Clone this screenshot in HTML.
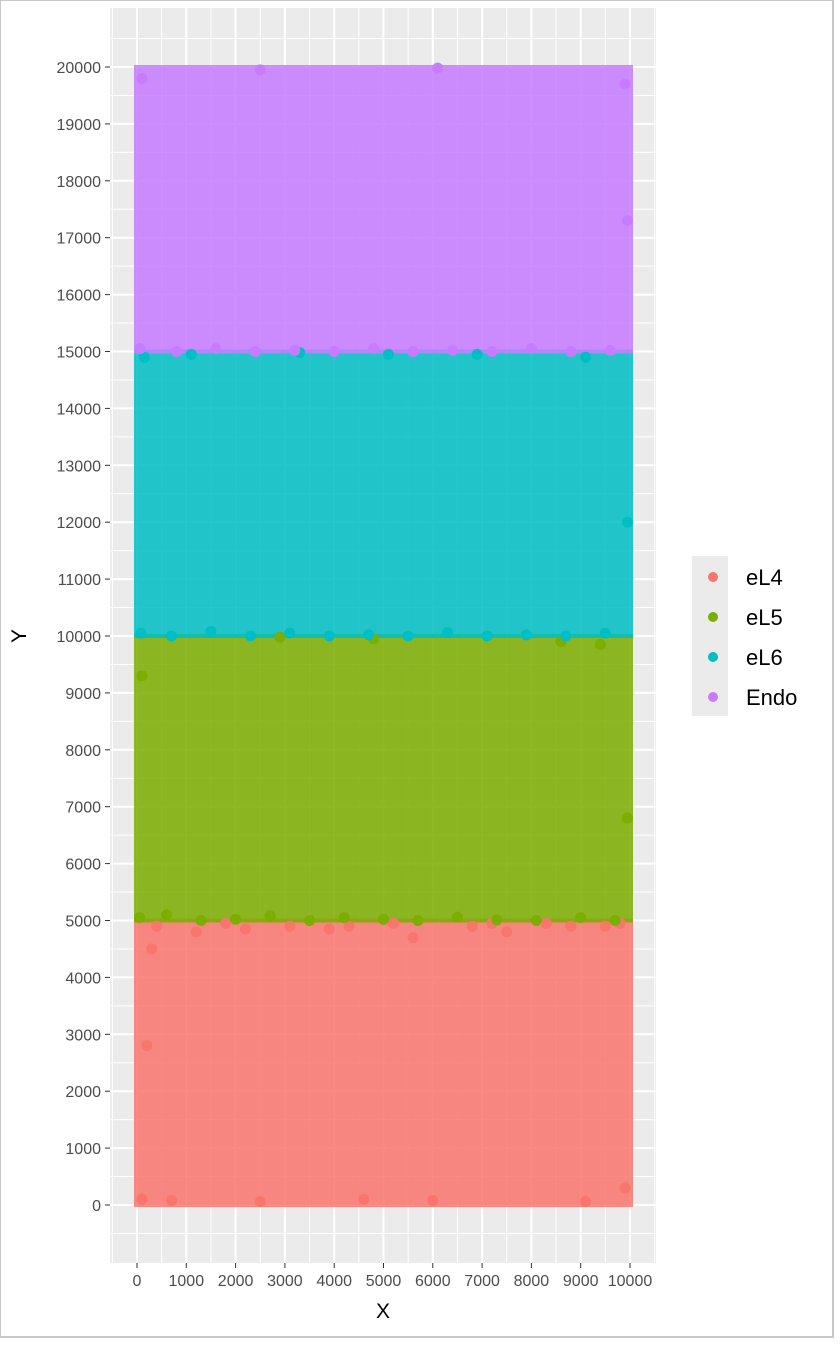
<!DOCTYPE html>
<html><head><meta charset="utf-8"><style>
body{margin:0;background:#fff;width:840px;height:1341px;overflow:hidden;font-family:"Liberation Sans",sans-serif}
</style></head><body>
<svg id="chart" width="840" height="1341" xmlns="http://www.w3.org/2000/svg">
<rect x="0" y="0" width="833" height="1337" fill="#fff" stroke="#c8c8c8" stroke-width="2"/>
<rect x="110" y="8" width="546" height="1255" fill="#ebebeb"/>
<g id="grid"></g>
<g id="bands"></g>
<g id="points"></g>
<g id="axes"></g>
<text x="383" y="1318" font-size="21" text-anchor="middle" fill="#000">X</text>
<text x="26" y="636" font-size="21" text-anchor="middle" fill="#000" transform="rotate(-90 26 636)">Y</text>
<g id="legend"></g>
</svg>
<script>
const categories=["eL4","eL5","eL6","Endo"];
const colors=["#F8766D","#7CAE00","#00BFC4","#C77CFF"];
const bandYMin=[0,5000,10000,15000];
const bandYMax=[5000,10000,15000,20000];
const xTicks=[0,1000,2000,3000,4000,5000,6000,7000,8000,9000,10000];
const yTicks=[0,1000,2000,3000,4000,5000,6000,7000,8000,9000,10000,11000,12000,13000,14000,15000,16000,17000,18000,19000,20000];
const ptX0=[100,400,700,1200,1800,2500,3100,3900,4600,5200,6000,6800,7500,8300,9100,9800,9900,200,5600,8800,300,2200,4300,7200,9500];
const ptY0=[100,4900,80,4800,4950,60,4900,4850,100,4950,80,4900,4800,4950,60,4950,300,2800,4700,4900,4500,4850,4900,4950,4900];
const ptX1=[50,600,1300,2000,2700,3500,4200,5000,5700,6500,7300,8100,9000,9700,9950,100,4800,8600,9400,2900];
const ptY1=[5050,5100,5000,5020,5080,5000,5050,5020,5000,5060,5010,5000,5050,5000,6800,9300,9950,9900,9850,9980];
const ptX2=[80,700,1500,2300,3100,3900,4700,5500,6300,7100,7900,8700,9500,9950,150,1100,5100,9100,3300,6900];
const ptY2=[10050,10000,10080,10000,10050,10000,10020,10000,10060,10000,10020,10000,10050,12000,14900,14950,14950,14900,14980,14950];
const ptX3=[60,800,1600,2400,3200,4000,4800,5600,6400,7200,8000,8800,9600,9950,100,9900,2500,6100];
const ptY3=[15050,15000,15050,15000,15020,15000,15050,15000,15020,15000,15050,15000,15020,17300,19800,19700,19950,19980];
const ptsX=[ptX0,ptX1,ptX2,ptX3], ptsY=[ptY0,ptY1,ptY2,ptY3];
const NS="http://www.w3.org/2000/svg";
const sx=v=>137+v*(630-137)/10000;
const sy=v=>1205-v*(1205-67)/20000;
function mk(tag,attrs,parent){const e=document.createElementNS(NS,tag);for(const k in attrs)e.setAttribute(k,attrs[k]);parent.appendChild(e);return e;}
const grid=document.getElementById('grid');
for(let i=0;i<xTicks.length;i++){
 const l=mk('line',{x1:sx(xTicks[i]),x2:sx(xTicks[i]),y1:8,y2:1263,stroke:'#fff','stroke-width':2},grid);
 
 
 if(i<xTicks.length-1){const m=mk('line',{x1:sx(xTicks[i]+500),x2:sx(xTicks[i]+500),y1:8,y2:1263,stroke:'#fff','stroke-width':1},grid);
 
 }
}
[sx(-500),sx(10500)].forEach(x=>{const m=mk('line',{x1:x,x2:x,y1:8,y2:1263,stroke:'#fff','stroke-width':1},grid);
 
 });
for(let i=0;i<yTicks.length;i++){
 const l=mk('line',{x1:110,x2:656,y1:sy(yTicks[i]),y2:sy(yTicks[i]),stroke:'#fff','stroke-width':2},grid);
 
 
 const m=mk('line',{x1:110,x2:656,y1:sy(yTicks[i]+500),y2:sy(yTicks[i]+500),stroke:'#fff','stroke-width':1},grid);
 
 
}
{const m=mk('line',{x1:110,x2:656,y1:sy(-500),y2:sy(-500),stroke:'#fff','stroke-width':1},grid);
 
 }
const bands=document.getElementById('bands');
for(let c=0;c<categories.length;c++){
 const y1=sy(bandYMax[c]),y2=sy(bandYMin[c]);
 const r=mk('rect',{x:sx(0)-3,y:y1-2,width:sx(10000)-sx(0)+6,height:y2-y1+4,fill:colors[c],'fill-opacity':0.86},bands);
 
 
}
const pts=document.getElementById('points');
for(let c=0;c<categories.length;c++){
 for(let i=0;i<ptsX[c].length;i++){
  const p=mk('circle',{cx:sx(ptsX[c][i]),cy:sy(ptsY[c][i]),r:5.5,fill:colors[c]},pts);
  
  
 }
}
const axes=document.getElementById('axes');
xTicks.forEach(v=>{
 const t=mk('line',{x1:sx(v),x2:sx(v),y1:1263,y2:1268,stroke:'#333','stroke-width':1},axes);
 
 
 const l=mk('text',{x:sx(v),y:1286,'font-size':16,'text-anchor':'middle',fill:'#4d4d4d'},axes);
 l.textContent=v;
 
 
});
yTicks.forEach(v=>{
 const t=mk('line',{x1:105,x2:110,y1:sy(v),y2:sy(v),stroke:'#333','stroke-width':1},axes);
 
 
 const l=mk('text',{x:101,y:sy(v)+6,'font-size':16,'text-anchor':'end',fill:'#4d4d4d'},axes);
 l.textContent=v;
 
 
});
const lg=document.getElementById('legend');
for(let c=0;c<categories.length;c++){
 const y=556+c*40;
 const b=mk('rect',{x:692,y:y,width:36,height:40,fill:'#ebebeb'},lg);
 
 
 const d=mk('circle',{cx:713,cy:y+21,r:5,fill:colors[c]},lg);
 
 
 const t=mk('text',{x:746,y:y+29,'font-size':22,fill:'#000'},lg);
 t.textContent=categories[c];
 
 
}
</script>
</body></html>
